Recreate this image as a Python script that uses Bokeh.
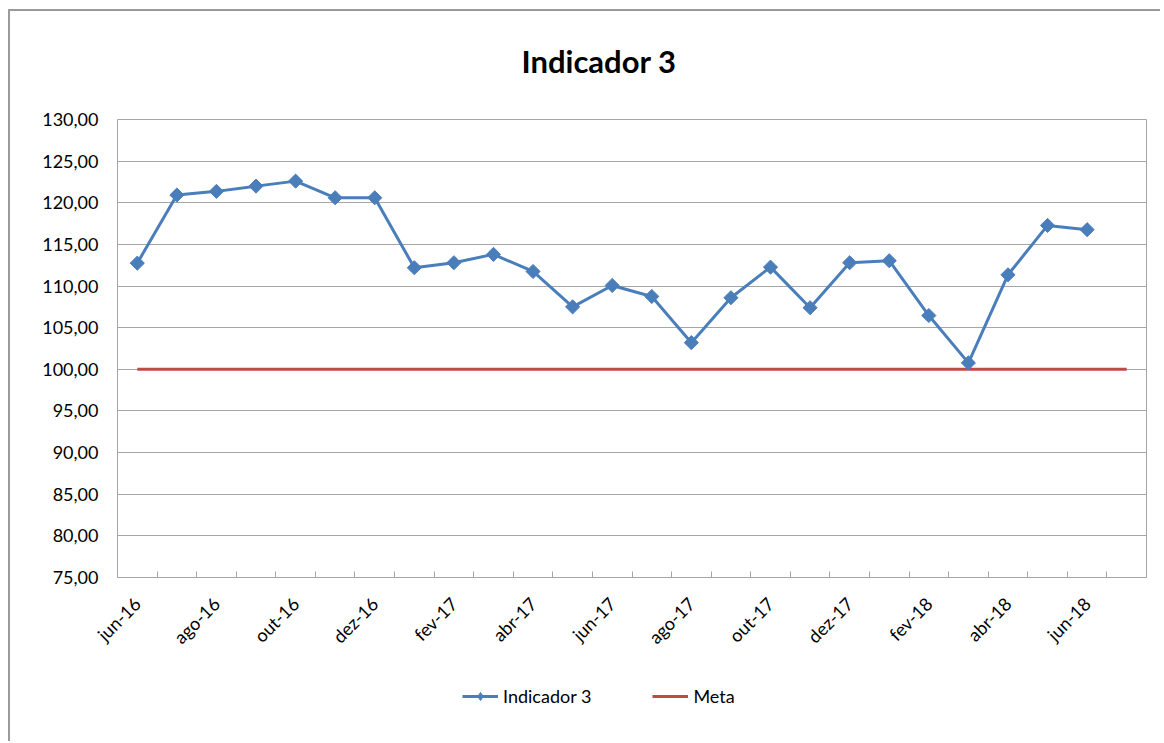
import math
from bokeh.plotting import figure
from bokeh.layouts import column
from bokeh.models import FixedTicker, Legend, LegendItem, Title
from bokeh.embed import file_html
from bokeh.resources import INLINE

# dados
meses = ["jun-16", "jul-16", "ago-16", "set-16", "out-16", "nov-16", "dez-16",
         "jan-17", "fev-17", "mar-17", "abr-17", "mai-17", "jun-17", "jul-17",
         "ago-17", "set-17", "out-17", "nov-17", "dez-17", "jan-18", "fev-18",
         "mar-18", "abr-18", "mai-18", "jun-18", "jul-18"]
indicador = [112.75, 120.93, 121.37, 122.00, 122.60, 120.60, 120.60,
             112.20, 112.80, 113.80, 111.75, 107.50, 110.07, 108.75,
             103.20, 108.60, 112.27, 107.40, 112.80, 113.04, 106.46,
             100.77, 111.35, 117.28, 116.77]
meta = [100, 100, 100, 100, 100, 100, 100, 100, 100, 100, 100, 100, 100,
        100, 100, 100, 100, 100, 100, 100, 100, 100, 100, 100, 100, 100]
y_ticks = [75, 80, 85, 90, 95, 100, 105, 110, 115, 120, 125, 130]
y_labels = ["75,00", "80,00", "85,00", "90,00", "95,00", "100,00", "105,00",
            "110,00", "115,00", "120,00", "125,00", "130,00"]

AZUL = "#4a7ebb"
VERMELHO = "#be4b48"
CINZA = "#a6a6a6"
FONTE = "Lato"

x_ind = list(range(len(indicador)))
x_meta = list(range(len(meta)))

p = figure(width=1150, height=660, x_range=(-0.5, len(meses) - 0.5), y_range=(75, 130),
           output_backend="svg", toolbar_location=None,
           min_border_left=107, min_border_right=14,
           min_border_top=108, min_border_bottom=94)
p.outline_line_color = CINZA
p.outline_line_width = 1

# título (um título vazio serve de espaçador entre o título e a área do gráfico)
p.add_layout(Title(text=" ", text_font_size="1px", standoff=9), "above")
p.title.text = "Indicador 3"
p.title.align = "left"
p.title.offset = 404
p.title.standoff = 56
p.title.text_font = FONTE
p.title.text_font_size = "31px"
p.title.text_font_style = "bold"
p.title.text_color = "#000000"

# eixo x: rótulos a cada dois meses, marcas nas divisas das categorias
p.xaxis.ticker = FixedTicker(ticks=list(range(0, len(indicador), 2)),
                             minor_ticks=[i - 0.5 for i in range(len(meses) + 1)])
p.xaxis.major_label_overrides = {i: meses[i] for i in range(0, len(indicador), 2)}
p.xaxis.major_label_orientation = math.pi / 4
p.xaxis.major_tick_in = 0
p.xaxis.major_tick_out = 0
p.xaxis.minor_tick_in = 6
p.xaxis.minor_tick_out = 0
p.xaxis.minor_tick_line_color = CINZA
p.xaxis.axis_line_color = CINZA
p.xaxis.major_label_standoff = 23
p.xgrid.grid_line_color = None

# eixo y
p.yaxis.ticker = FixedTicker(ticks=y_ticks)
p.yaxis.major_label_overrides = {t: s for t, s in zip(y_ticks, y_labels)}
p.yaxis.major_tick_in = 0
p.yaxis.major_tick_out = 0
p.yaxis.minor_tick_line_color = None
p.yaxis.axis_line_color = None
p.yaxis.major_label_standoff = 19
p.ygrid.grid_line_color = CINZA
p.ygrid.grid_line_width = 1

for ax in (p.xaxis, p.yaxis):
    ax.major_label_text_font = FONTE
    ax.major_label_text_font_size = "18px"
    ax.major_label_text_color = "#000000"

# séries
p.line(x_meta, meta, line_width=3, color=VERMELHO)
p.line(x_ind, indicador, line_width=3, color=AZUL)
p.scatter(x_ind, indicador, marker="square", angle=math.pi / 4, size=10,
          line_width=1, color=AZUL)

# legenda abaixo do gráfico: figura auxiliar cujas séries ficam fora da vista
leg = figure(width=1150, height=70, x_range=(0, 1), y_range=(0, 1),
             output_backend="svg", toolbar_location=None,
             x_axis_location=None, y_axis_location=None,
             min_border=0)
leg.outline_line_color = None
leg.grid.grid_line_color = None
g_ind = leg.line(x_ind, indicador, line_width=3, color=AZUL)
g_mk = leg.scatter(x_ind, indicador, marker="diamond", size=14, color=AZUL)
g_meta = leg.line(x_meta, meta, line_width=3, color=VERMELHO)
legend = Legend(items=[LegendItem(label="Indicador 3", renderers=[g_ind, g_mk]),
                       LegendItem(label="Meta", renderers=[g_meta])],
                orientation="horizontal", location=(345, 34),
                border_line_color=None, background_fill_alpha=0,
                padding=0, margin=0, spacing=61, glyph_width=36, glyph_height=20,
                label_standoff=5, label_text_font=FONTE, label_text_font_size="18px",
                label_text_color="#000000")
leg.add_layout(legend)

layout = column(p, leg, spacing=0)
layout.styles = {"margin-left": "8px", "margin-top": "9px",
                 "border-left": "2px solid #9a9a9a", "border-top": "2px solid #9a9a9a"}

open("out.html", "w").write(file_html(layout, INLINE))
